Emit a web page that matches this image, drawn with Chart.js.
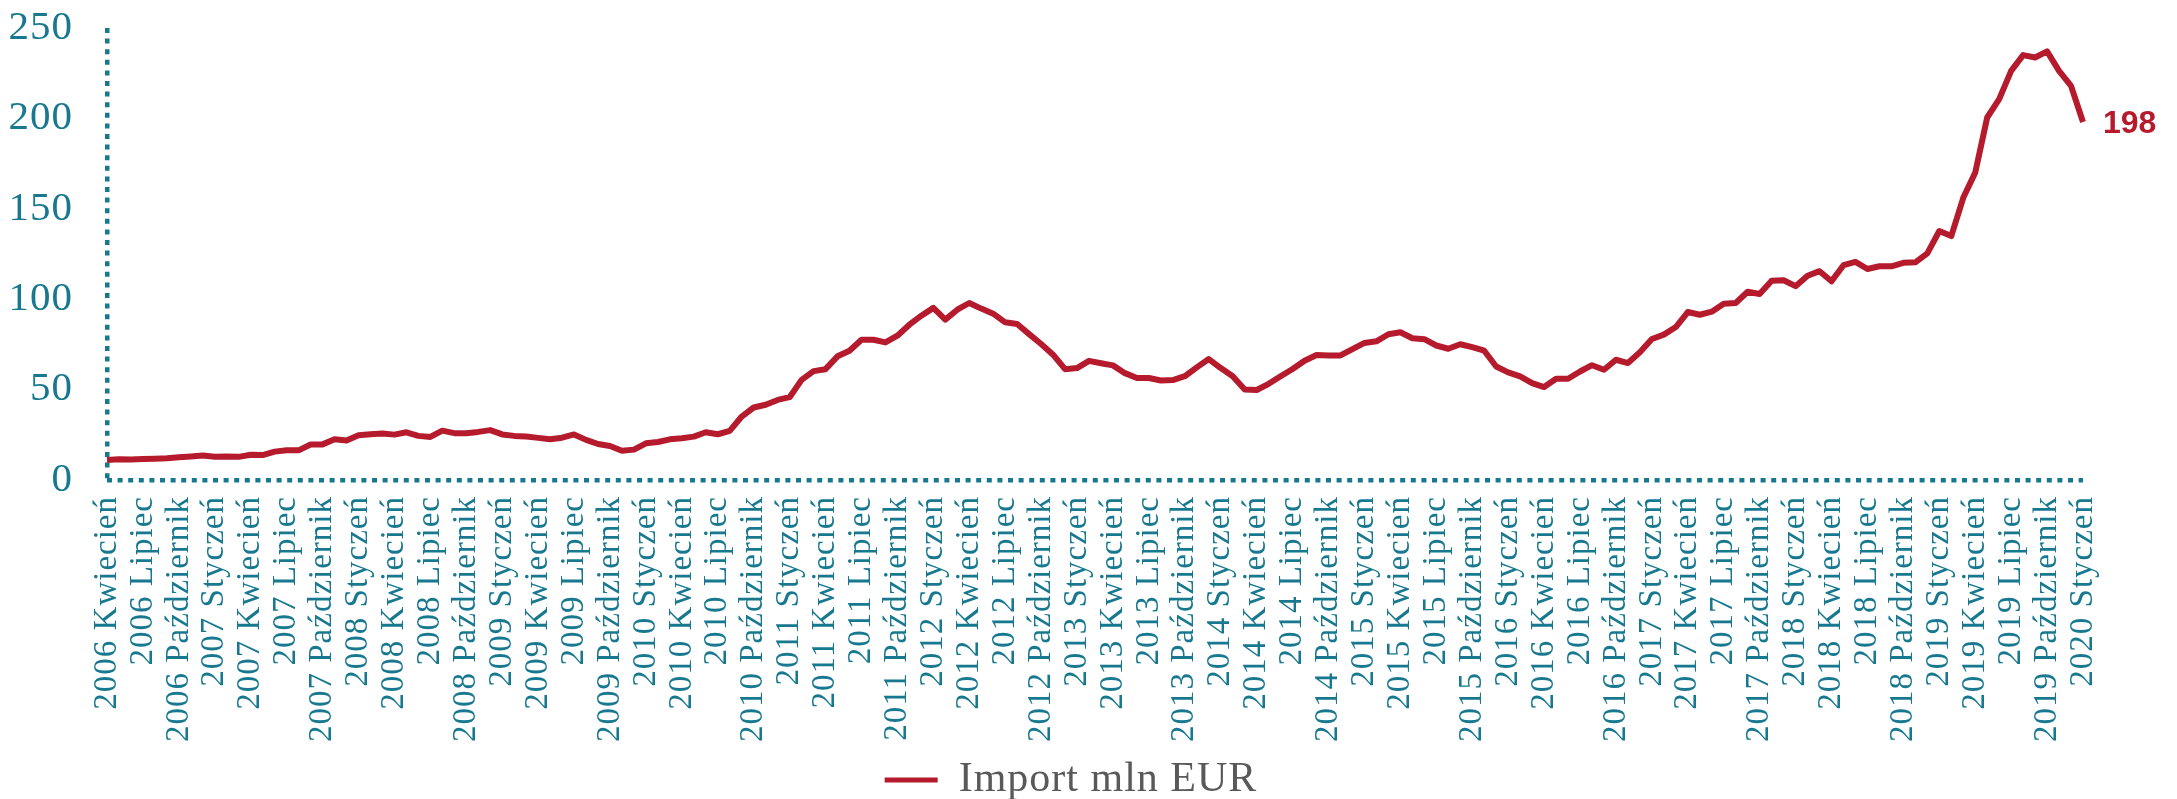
<!DOCTYPE html>
<html>
<head>
<meta charset="utf-8">
<script src="https://cdn.jsdelivr.net/npm/chart.js@4"></script>
<style>
  html, body { margin: 0; padding: 0; background: #fff; }
  #chart { display: block; }
</style>
</head>
<body>
<canvas id="chart" width="2177" height="799"></canvas>
<script>
const monthNames = ['Styczeń', 'Luty', 'Marzec', 'Kwiecień', 'Maj', 'Czerwiec', 'Lipiec', 'Sierpień', 'Wrzesień', 'Październik', 'Listopad', 'Grudzień']
const startYear = 2006
const startMonth = 3 // Kwiecień
const seriesLabel = 'Import mln EUR'

// monthly values, 2006 Kwiecień .. 2020 Styczeń
const importValues = [
  11.1, 11.5, 11.3, 11.6, 11.8, 12.0, 12.6, 13.0, 13.5, 12.8, 13.0, 12.8, 14.0, 13.8, 15.7, 16.4, 16.4, 19.6, 19.7, 22.5,
  21.8, 24.7, 25.3, 25.7, 25.1, 26.4, 24.4, 23.8, 27.3, 25.9, 25.9, 26.6, 27.6, 25.2, 24.4, 24.0, 23.3, 22.5, 23.4, 25.2,
  22.2, 19.9, 18.8, 16.2, 16.8, 20.3, 21.0, 22.5, 23.1, 24.0, 26.4, 25.3, 27.2, 35.1, 40.1, 41.6, 44.3, 45.8, 55.4, 60.2,
  61.3, 68.4, 71.5, 77.6, 77.6, 76.1, 79.8, 85.9, 90.9, 95.2, 88.7, 94.2, 97.9, 94.8, 92.0, 87.2, 86.3, 80.7, 75.2, 69.3,
  61.3, 61.9, 65.9, 64.6, 63.4, 59.1, 56.4, 56.4, 55.0, 55.3, 57.4, 62.3, 66.9, 61.9, 57.4, 50.1, 49.8, 53.2, 57.4, 61.4,
  66.0, 69.1, 68.9, 68.9, 72.4, 75.8, 76.7, 80.6, 81.7, 78.4, 77.9, 74.4, 72.6, 75.1, 73.5, 71.5, 62.8, 59.5, 57.3, 53.6,
  51.4, 56.0, 56.0, 60.0, 63.5, 61.0, 66.5, 64.7, 70.6, 78.0, 80.4, 84.6, 92.9, 91.4, 93.1, 97.5, 97.9, 104.1, 102.9, 110.2,
  110.5, 107.2, 113.0, 115.5, 109.9, 118.8, 120.6, 116.7, 118.2, 118.2, 120.1, 120.4, 125.3, 137.7, 134.9, 156.1, 170.0, 200.5, 210.7, 226.3,
  235.0, 233.7, 237.1, 226.3, 218.0, 198.0
]

const yMax = 250
const yStep = 50

const teal = '#17788f'
const red = '#b51b2c'
const gray = '#595959'
const serif = '"Liberation Serif", serif'
const padBottom = -12

const labels = importValues.map((v, i) => {
  const m = startMonth + i
  return (startYear + Math.floor(m / 12)) + ' ' + monthNames[m % 12]
})

const spacing = {
  id: 'spacing',
  beforeUpdate (chart) { chart.ctx.letterSpacing = '1px' },
  beforeDraw (chart) { chart.ctx.letterSpacing = '1px' }
}

const lastLabel = {
  id: 'lastLabel',
  afterDatasetsDraw (chart) {
    const meta = chart.getDatasetMeta(0)
    const point = meta.data[meta.data.length - 1]
    const ctx = chart.ctx
    ctx.save()
    ctx.letterSpacing = '0px'
    ctx.font = 'bold 32px "Liberation Sans"'
    ctx.fillStyle = red
    ctx.textBaseline = 'middle'
    ctx.fillText(Math.round(importValues[importValues.length - 1]), point.x + 20, point.y + 2)
    ctx.restore()
  }
}

// the dotted axes are the grid lines at value 0 / first category
const axisDash = { display: false, dash: [5, 5.6] }

new Chart(document.getElementById('chart'), {
  type: 'line',
  data: {
    labels: labels,
    datasets: [{
      label: seriesLabel,
      data: importValues,
      borderColor: red,
      backgroundColor: red,
      borderWidth: 6,
      pointRadius: 0,
      tension: 0,
      borderJoinStyle: 'round'
    }]
  },
  options: {
    responsive: false,
    animation: false,
    devicePixelRatio: 1,
    layout: { padding: { left: 0, right: 35, top: 28, bottom: padBottom } },
    plugins: {
      tooltip: { enabled: false },
      legend: {
        position: 'bottom',
        labels: {
          boxWidth: 53,
          boxHeight: 5,
          padding: 0,
          color: gray,
          font: { family: serif, size: 42 },
          generateLabels (chart) {
            return Chart.defaults.plugins.legend.labels.generateLabels(chart)
              .map((item) => ({ ...item, lineWidth: 0, fillStyle: red }))
          }
        }
      }
    },
    scales: {
      x: {
        offset: false,
        grid: {
          drawTicks: false,
          lineWidth: 4.5,
          color: (c) => (c.index === 0 ? teal : 'transparent')
        },
        border: axisDash,
        ticks: {
          autoSkip: false,
          maxRotation: 90,
          minRotation: 90,
          padding: 16,
          color: teal,
          font: { family: serif, size: 33 },
          callback: (value, i) => (i % 3 === 0 ? labels[i] : '')
        },
        afterFit (scale) {
          scale.height = scale.chart.height - padBottom - 480 - scale.chart.legend.height
        }
      },
      y: {
        min: 0,
        max: yMax,
        grid: {
          drawTicks: false,
          lineWidth: 4.5,
          color: (c) => (c.tick && c.tick.value === 0 ? teal : 'transparent')
        },
        border: axisDash,
        ticks: {
          stepSize: yStep,
          padding: 34,
          color: teal,
          font: { family: serif, size: 41 }
        },
        afterFit (scale) {
          scale.width = 107
          scale.paddingTop = 0
          scale.paddingBottom = 0
        }
      },
      y2: {
        position: 'right',
        display: true,
        grid: { display: false, drawTicks: false },
        border: { display: false },
        ticks: { display: false },
        afterFit (scale) { scale.width = 59 }
      }
    }
  },
  plugins: [spacing, lastLabel]
})
</script>
</body>
</html>
